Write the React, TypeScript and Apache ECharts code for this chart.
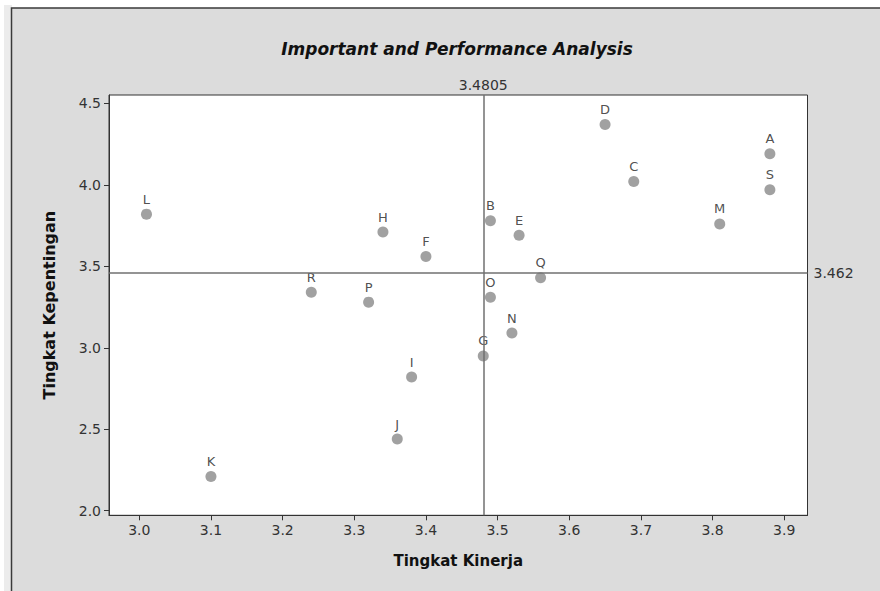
import React, { useEffect, useRef } from "react";
import * as echarts from "echarts";

const labels = ["A", "B", "C", "D", "E", "F", "G", "H", "I", "J", "K", "L", "M", "N", "O", "P", "Q", "R", "S"];
const kinerja = [3.88, 3.49, 3.69, 3.65, 3.53, 3.40, 3.48, 3.34, 3.38, 3.36, 3.10, 3.01, 3.81, 3.52, 3.49, 3.32, 3.56, 3.24, 3.88];
const kepentingan = [4.19, 3.78, 4.02, 4.37, 3.69, 3.56, 2.95, 3.71, 2.82, 2.44, 2.21, 3.82, 3.76, 3.09, 3.31, 3.28, 3.43, 3.34, 3.97];
const xTicks = [3.0, 3.1, 3.2, 3.3, 3.4, 3.5, 3.6, 3.7, 3.8, 3.9];
const yTicks = [2.0, 2.5, 3.0, 3.5, 4.0, 4.5];
const meanKinerja = 3.4805;
const meanKepentingan = 3.462;

const FONT = "DejaVu Sans";

export default function App() {
  const ref = useRef<HTMLDivElement>(null);
  useEffect(() => {
    if (!ref.current) return;
    const chart = echarts.init(ref.current, undefined, { renderer: "svg" });
    const data = labels.map((n, i) => ({ name: n, value: [kinerja[i], kepentingan[i]] }));
    chart.setOption({
      animation: false,
      backgroundColor: "#ffffff",
      graphic: [
        { type: "rect", z: -10, shape: { x: 4, y: 5, width: 8, height: 600 }, style: { fill: "#ececec" } },
        {
          type: "rect",
          z: -5,
          shape: { x: 11.5, y: 8, width: 900, height: 600 },
          style: { fill: "#dcdcdc", stroke: "#3a3a3a", lineWidth: 1.5 },
        },
      ],
      title: {
        text: "Important and Performance Analysis",
        left: 452,
        top: 35,
        textAlign: "center",
        textStyle: { fontFamily: FONT, fontSize: 17, fontWeight: "bold", fontStyle: "italic", color: "#111" },
      },
      grid: {
        left: 109,
        top: 95,
        right: 72.5,
        bottom: 75.7,
        show: true,
        backgroundColor: "#ffffff",
        borderColor: "#333",
        borderWidth: 1,
      },
      xAxis: {
        type: "value",
        min: 2.9577,
        max: 3.9325,
        name: "Tingkat Kinerja",
        nameLocation: "middle",
        nameGap: 38,
        nameTextStyle: { fontFamily: FONT, fontSize: 15, fontWeight: "bold", color: "#111" },
        axisLine: { show: true, onZero: false, lineStyle: { color: "#333", width: 1 } },
        axisTick: { show: true, length: 5, customValues: xTicks, lineStyle: { color: "#333" } },
        axisLabel: {
          customValues: xTicks,
          formatter: (v: number) => v.toFixed(1),
          fontFamily: FONT,
          fontSize: 14,
          color: "#333",
          margin: 8,
        },
        splitLine: { show: false },
      },
      yAxis: {
        type: "value",
        min: 1.972,
        max: 4.551,
        name: "Tingkat Kepentingan",
        nameLocation: "middle",
        nameGap: 52,
        nameTextStyle: { fontFamily: FONT, fontSize: 16, fontWeight: "bold", color: "#111" },
        axisLine: { show: true, onZero: false, lineStyle: { color: "#333", width: 1 } },
        axisTick: { show: true, length: 5, customValues: yTicks, lineStyle: { color: "#333" } },
        axisLabel: {
          customValues: yTicks,
          formatter: (v: number) => v.toFixed(1),
          fontFamily: FONT,
          fontSize: 14,
          color: "#333",
          margin: 8,
        },
        splitLine: { show: false },
      },
      series: [
        {
          type: "scatter",
          data,
          symbolSize: 11,
          itemStyle: { color: "#8a8a8a" },
          label: {
            show: true,
            formatter: "{b}",
            position: "top",
            distance: 3,
            fontFamily: FONT,
            fontSize: 13,
            color: "#222222",
          },
          markLine: {
            silent: true,
            symbol: "none",
            lineStyle: { color: "#707070", width: 1.5, type: "solid" },
            label: { show: true, fontFamily: FONT, fontSize: 14, color: "#333" },
            data: [
              { xAxis: meanKinerja, label: { formatter: String(meanKinerja), position: "end", distance: 3 } },
              { yAxis: meanKepentingan, label: { formatter: String(meanKepentingan), position: "end", distance: 6 } },
            ],
          },
        },
      ],
    });
    return () => chart.dispose();
  }, []);
  return <div ref={ref} style={{ position: "absolute", left: 0, top: 0, width: 880, height: 591 }} />;
}
